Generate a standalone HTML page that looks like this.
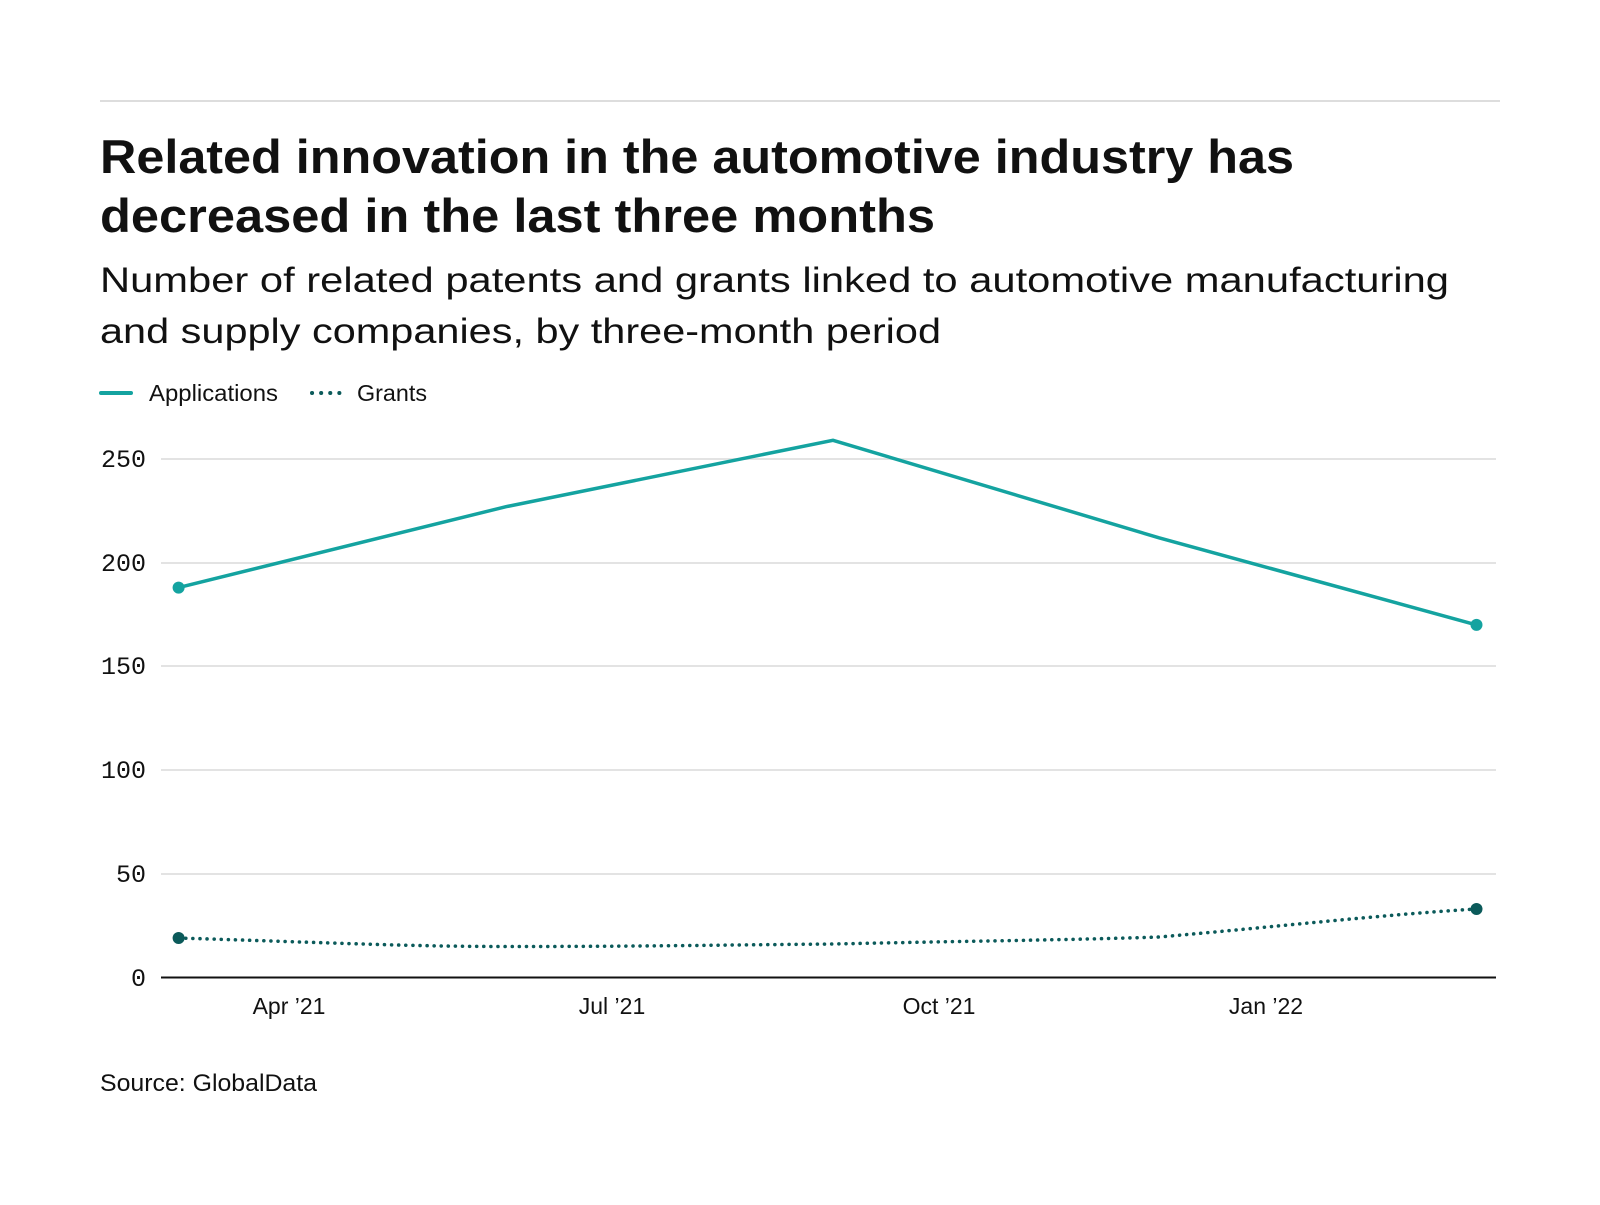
<!DOCTYPE html>
<html><head><meta charset="utf-8"><style>
body{margin:0;background:#fff;width:1600px;height:1200px;overflow:hidden;font-family:"Liberation Sans",sans-serif;color:#111}
</style></head><body>
<svg width="1600" height="1200" xmlns="http://www.w3.org/2000/svg">
<line x1="100" y1="101" x2="1500" y2="101" stroke="#ddd" stroke-width="2"/>
<text x="100" y="173" font-size="47" font-weight="bold" fill="#111" textLength="1194" lengthAdjust="spacingAndGlyphs">Related innovation in the automotive industry has</text>
<text x="100" y="232" font-size="47" font-weight="bold" fill="#111" textLength="835" lengthAdjust="spacingAndGlyphs">decreased in the last three months</text>
<text x="100" y="292" font-size="35" fill="#111" textLength="1349" lengthAdjust="spacingAndGlyphs">Number of related patents and grants linked to automotive manufacturing</text>
<text x="100" y="343" font-size="35" fill="#111" textLength="841" lengthAdjust="spacingAndGlyphs">and supply companies, by three-month period</text>
<line x1="101" y1="393" x2="131" y2="393" stroke="#14a3a0" stroke-width="4" stroke-linecap="round"/>
<text x="149" y="401" font-size="23" fill="#111" textLength="129" lengthAdjust="spacingAndGlyphs">Applications</text>
<line x1="312" y1="393" x2="340" y2="393" stroke="#0b5a5a" stroke-width="4" stroke-dasharray="0.1 9" stroke-linecap="round"/>
<text x="357" y="401" font-size="23" fill="#111" textLength="70" lengthAdjust="spacingAndGlyphs">Grants</text>
<g stroke="#e3e3e3" stroke-width="2">
<line x1="161" y1="459" x2="1496" y2="459"/>
<line x1="161" y1="563" x2="1496" y2="563"/>
<line x1="161" y1="666" x2="1496" y2="666"/>
<line x1="161" y1="770" x2="1496" y2="770"/>
<line x1="161" y1="874" x2="1496" y2="874"/>
</g>
<line x1="161" y1="977.5" x2="1496" y2="977.5" stroke="#111" stroke-width="2"/>
<g font-family="Liberation Mono, monospace" font-size="25" fill="#111" text-anchor="end">
<text x="146" y="467">250</text><text x="146" y="571">200</text><text x="146" y="674">150</text>
<text x="146" y="778">100</text><text x="146" y="882">50</text><text x="146" y="986">0</text>
</g>
<g font-size="23" fill="#111" text-anchor="middle">
<text x="289" y="1014">Apr ’21</text><text x="612" y="1014">Jul ’21</text>
<text x="939" y="1014">Oct ’21</text><text x="1266" y="1014">Jan ’22</text>
</g>
<polyline fill="none" stroke="#14a3a0" stroke-width="3.5" points="178.6,587.6 506,506.7 833,440.3 1159,537.8 1476.5,624.9"/>
<circle cx="178.6" cy="587.6" r="6" fill="#14a3a0"/><circle cx="1476.5" cy="624.9" r="6" fill="#14a3a0"/>
<path fill="none" stroke="#0b5a5a" stroke-width="3.5" stroke-dasharray="0.1 7" stroke-linecap="round" d="M178.6,938 C340,943 410,946.5 506,946.5 C650,946.5 715,945 833,944 C970,941 1070,940 1159,937 C1275,927 1378,915 1476.5,909"/>
<circle cx="178.6" cy="938" r="6" fill="#0b5a5a"/><circle cx="1476.5" cy="909" r="6" fill="#0b5a5a"/>
<text x="100" y="1091" font-size="24" fill="#111" textLength="217" lengthAdjust="spacingAndGlyphs">Source: GlobalData</text>
</svg>
</body></html>
